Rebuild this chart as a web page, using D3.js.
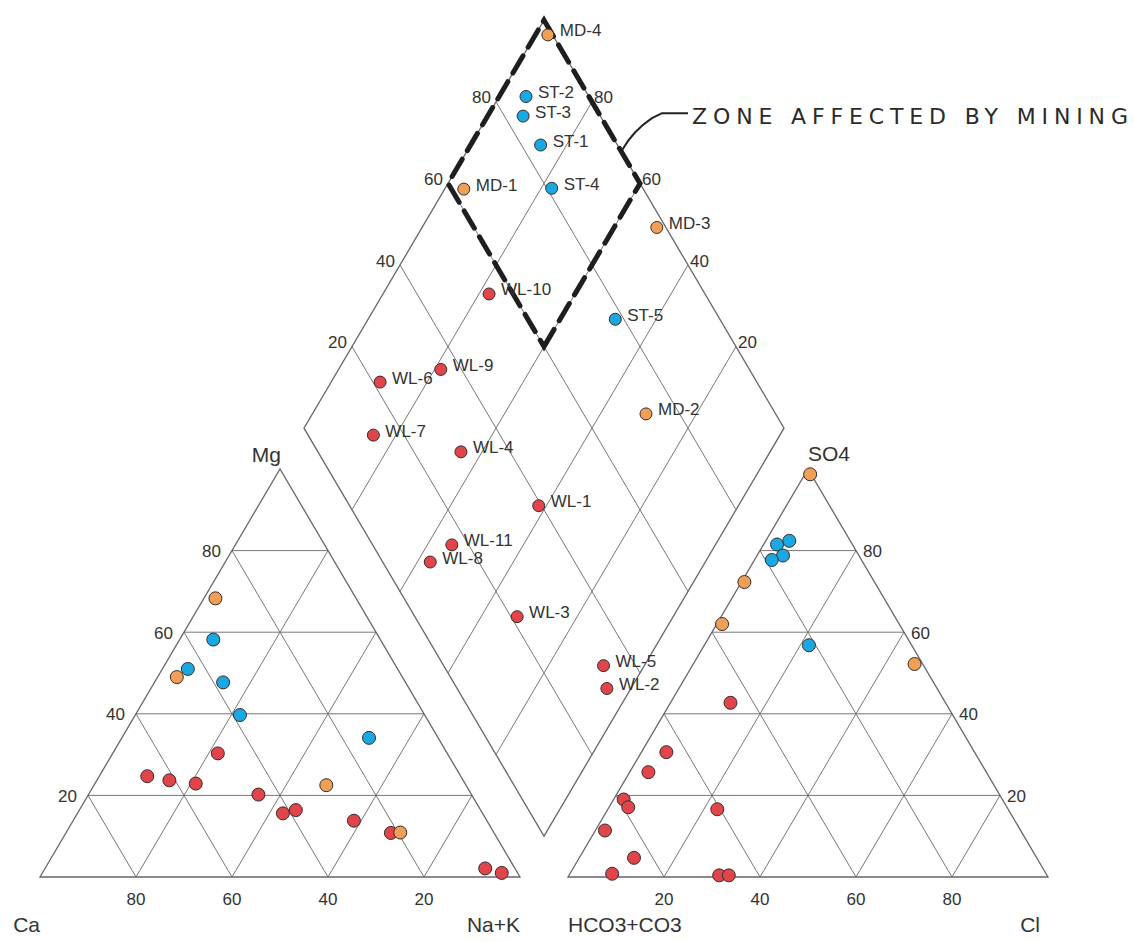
<!DOCTYPE html>
<html>
<head>
<meta charset="utf-8">
<script src="https://cdn.jsdelivr.net/npm/d3@7"></script>
<style>
  body { margin: 0; background: #fff; }
  svg { display: block; }
  text { font-family: "Liberation Sans", Arial, sans-serif; fill: #333; }
</style>
</head>
<body>
<svg id="chart" width="1135" height="942"></svg>
<script>
// ============================================================
//  Data (percent of meq/L)
// ============================================================

const tickValues = [20, 40, 60, 80];

// cation triangle: [Ca, Mg, Na+K]
const cationWL = [
  [47.8, 30.3, 21.9], [65.3, 24.7, 10.0], [61.2, 23.7, 15.1], [56.1, 22.9, 21.0],
  [44.4, 20.2, 35.4], [41.6, 15.6, 42.8], [38.5, 16.4, 45.1], [27.7, 13.8, 58.5],
  [21.5, 10.8, 67.7], [6.2, 2.1, 91.7], [3.3, 1.0, 95.7]
];
const cationMD = [[29.3, 68.3, 2.4], [47.0, 49.0, 4.0], [29.1, 22.5, 48.4], [19.5, 10.9, 69.6]];
const cationST = [[34.8, 58.2, 7.0], [43.7, 51.0, 5.3], [38.0, 47.7, 14.3], [38.5, 39.7, 21.8], [14.4, 34.1, 51.5]];

// anion triangle: [HCO3+CO3, SO4, Cl]
const anionWL = [
  [44.8, 42.7, 12.5], [64.2, 30.6, 5.2], [70.4, 25.7, 3.9], [78.9, 19.0, 2.1],
  [78.9, 17.1, 4.0], [60.6, 16.6, 22.8], [86.6, 11.4, 2.0], [83.9, 4.7, 11.4],
  [90.4, 0.8, 8.8], [68.3, 0.4, 31.3], [66.3, 0.4, 33.3]
];
const anionMD = [[0.2, 98.7, 1.1], [27.1, 72.3, 0.6], [36.9, 62.0, 1.1], [1.7, 52.2, 46.1]];
const anionST = [[15.7, 81.5, 2.8], [12.7, 82.4, 4.9], [15.8, 78.8, 5.4], [18.7, 77.7, 3.6], [21.4, 56.8, 21.8]];

// diamond: sample, SO4+Cl, Ca+Mg
const sampleNames = ['MD-4', 'ST-2', 'ST-3', 'ST-1', 'MD-1', 'ST-4', 'MD-3', 'WL-10', 'ST-5', 'WL-9',
  'WL-6', 'MD-2', 'WL-7', 'WL-4', 'WL-1', 'WL-11', 'WL-8', 'WL-3', 'WL-5', 'WL-2'];
const sampleSO4Cl = [99.0, 86.9, 83.9, 84.0, 62.6, 81.0, 98.1, 55.0, 78.2, 35.7,
  21.5, 73.0, 13.6, 29.8, 39.4, 16.5, 9.9, 21.3, 33.3, 31.2];
const sampleCaMg = [97.4, 94.4, 92.6, 85.4, 96.0, 77.8, 51.1, 77.9, 48.5, 78.7,
  89.8, 30.5, 84.7, 64.4, 41.6, 54.9, 57.3, 32.5, 8.5, 5.0];

// zone affected by mining (SO4+Cl and Ca+Mg both above 60)
const zoneSO4Cl = [60, 100, 100, 60];
const zoneCaMg = [60, 60, 100, 100];

// ============================================================
//  Geometry
// ============================================================

const svg = d3.select('#chart');
const x = d3.scaleLinear().domain([0, 100]).range([40, 520]);
const y = d3.scaleLinear().domain([0, 100]).range([877, 469]);

const GAP = 10;
const cat = (ca, mg, na) => [na + mg / 2, mg];
const an = (hc, so, cl) => [100 + GAP + cl + so / 2, so];
const dia = (s, c) => [100 + GAP / 2 + (s - c) / 2, GAP + s + c];
const px = p => [x(p[0]), y(p[1])];

const colors = { WL: '#e0454b', ST: '#1aa8e2', MD: '#f0a056' };

const gridG = svg.append('g');
function seg(a, b, w, c) {
  const A = px(a), B = px(b);
  gridG.append('line')
    .attr('x1', A[0]).attr('y1', A[1]).attr('x2', B[0]).attr('y2', B[1])
    .attr('stroke', c || '#777').attr('stroke-width', w || 1);
}
function poly(pts) {
  gridG.append('path')
    .attr('d', d3.line()(pts.map(px)) + 'Z')
    .attr('fill', 'none').attr('stroke', '#666').attr('stroke-width', 1.3);
}

// cation triangle
tickValues.forEach(k => {
  seg(cat(100 - k, k, 0), cat(0, k, 100 - k));
  seg(cat(100 - k, 0, k), cat(0, 100 - k, k));
  seg(cat(k, 0, 100 - k), cat(k, 100 - k, 0));
});
poly([cat(100, 0, 0), cat(0, 0, 100), cat(0, 100, 0)]);

// anion triangle
tickValues.forEach(k => {
  seg(an(100 - k, k, 0), an(0, k, 100 - k));
  seg(an(100 - k, 0, k), an(0, 100 - k, k));
  seg(an(k, 0, 100 - k), an(k, 100 - k, 0));
});
poly([an(100, 0, 0), an(0, 0, 100), an(0, 100, 0)]);

// diamond
tickValues.forEach(k => {
  seg(dia(k, 0), dia(k, 100));
  seg(dia(0, k), dia(100, k));
});
poly([dia(0, 0), dia(100, 0), dia(100, 100), dia(0, 100)]);

// ============================================================
//  Labels
// ============================================================

const labelG = svg.append('g').style('font-size', '17px');
function label(p, txt, anchor, dx, dy) {
  const P = px(p);
  labelG.append('text')
    .attr('x', P[0] + dx).attr('y', P[1] + dy)
    .attr('text-anchor', anchor)
    .attr('dominant-baseline', 'central')
    .text(txt);
}

tickValues.forEach(k => {
  label(cat(100 - k, k, 0), k, 'end', -11, 1);
  label(cat(k, 0, 100 - k), k, 'middle', 0, 22);
  label(an(0, k, 100 - k), k, 'start', 7, 1);
  label(an(100 - k, 0, k), k, 'middle', 0, 22);
  label(dia(k, 100), k, 'end', -5, -4);
  label(dia(100, k), k, 'start', 2, -4);
});

const titleG = svg.append('g').style('font-size', '21px');
function title(p, txt, anchor, dx, dy) {
  const P = px(p);
  titleG.append('text')
    .attr('x', P[0] + dx).attr('y', P[1] + dy)
    .attr('text-anchor', anchor)
    .attr('dominant-baseline', 'central')
    .text(txt);
}
title(cat(0, 100, 0), 'Mg', 'end', 1, -15);
title(an(0, 100, 0), 'SO4', 'start', 0, -16);
title(cat(100, 0, 0), 'Ca', 'end', 0, 47);
title(cat(0, 0, 100), 'Na+K', 'end', 0, 47);
title(an(100, 0, 0), 'HCO3+CO3', 'start', 0, 47);
title(an(0, 0, 100), 'Cl', 'end', -8, 47);

// ============================================================
//  Zone affected by mining
// ============================================================

const zonePts = zoneSO4Cl.map((s, i) => px(dia(s, zoneCaMg[i])));
svg.append('path')
  .attr('d', d3.line()(zonePts) + 'Z')
  .attr('fill', 'none')
  .attr('stroke', '#1e1e1e')
  .attr('stroke-width', 5)
  .attr('stroke-linecap', 'round')
  .attr('stroke-dasharray', '20 10');

// leader from the zone edge to the hand-written note
const tip = px(dia(100, 75));
const leader = d3.path();
leader.moveTo(tip[0] + 18, tip[1] + 28);
leader.bezierCurveTo(tip[0] + 26, tip[1] + 14, tip[0] + 36, tip[1] + 4, tip[0] + 48, tip[1] - 4);
leader.lineTo(tip[0] + 58, tip[1] - 9);
leader.lineTo(tip[0] + 84, tip[1] - 9);
svg.append('path')
  .attr('d', leader.toString())
  .attr('fill', 'none').attr('stroke', '#222').attr('stroke-width', 2);

svg.append('text')
  .attr('x', tip[0] + 88).attr('y', tip[1] + 2)
  .attr('textLength', 436).attr('lengthAdjust', 'spacing')
  .style('font-family', '"DejaVu Sans", sans-serif')
  .style('font-size', '22px')
  .style('fill', '#2a2a2a')
  .text('ZONE AFFECTED BY MINING');

// ============================================================
//  Points
// ============================================================

function dots(data, proj, color, r) {
  svg.append('g').selectAll('circle')
    .data(data)
    .join('circle')
    .attr('cx', d => px(proj(...d))[0])
    .attr('cy', d => px(proj(...d))[1])
    .attr('r', r)
    .attr('fill', color)
    .attr('stroke', '#3a2a2a')
    .attr('stroke-width', 1);
}

dots(cationWL, cat, colors.WL, 6.5);
dots(cationMD, cat, colors.MD, 6.5);
dots(cationST, cat, colors.ST, 6.5);
dots(anionWL, an, colors.WL, 6.5);
dots(anionMD, an, colors.MD, 6.5);
dots(anionST, an, colors.ST, 6.5);

const samples = sampleNames.map((name, i) => ({ name, p: dia(sampleSO4Cl[i], sampleCaMg[i]) }));
const sg = svg.append('g');
sg.selectAll('circle')
  .data(samples)
  .join('circle')
  .attr('cx', d => px(d.p)[0])
  .attr('cy', d => px(d.p)[1])
  .attr('r', 6)
  .attr('fill', d => colors[d.name.split('-')[0]])
  .attr('stroke', '#3a2a2a')
  .attr('stroke-width', 1);

sg.selectAll('text')
  .data(samples)
  .join('text')
  .attr('x', d => px(d.p)[0] + 12)
  .attr('y', d => px(d.p)[1] - 4)
  .attr('dominant-baseline', 'central')
  .style('font-size', '17px')
  .text(d => d.name);
</script>
</body>
</html>
